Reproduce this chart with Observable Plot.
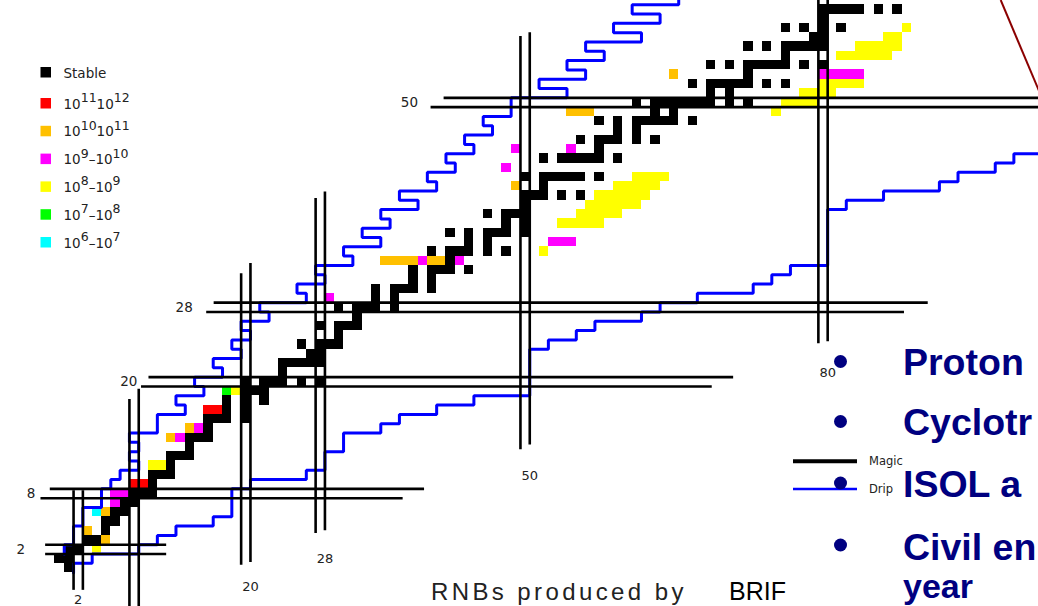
<!DOCTYPE html>
<html><head><meta charset="utf-8">
<script src="https://cdn.jsdelivr.net/npm/d3@7"></script>
<script src="https://cdn.jsdelivr.net/npm/@observablehq/plot@0.6"></script>
<style>
html,body{margin:0;padding:0;background:#fff;overflow:hidden}
#wrap{position:relative;width:1038px;height:606px}
#overlay{position:absolute;left:0;top:0;pointer-events:none}
</style></head><body><div id="wrap"></div>
<script>
// ---------- DATA ----------
// stable (and primordial) nuclides: index = Z, values = N
const stableN = [
 [1],[0,1],[1,2],[3,4],[5],[5,6],[6,7],[7,8],[8,9,10],[10],
 [10,11,12],[12],[12,13,14],[14],[14,15,16],[16],[16,17,18,20],[18,20],[18,20,22],[20,21,22],
 [20,22,23,24,26,28],[24],[24,25,26,27,28],[27,28],[26,28,29,30],[30],[28,30,31,32],[32],[30,32,33,34,36],[34,36],
 [34,36,37,38,40],[38,40],[38,40,41,42,44],[42],[40,42,43,44,46,48],[44,46],[42,44,46,47,48,50],[48,50],[46,48,49,50],[50],
 [50,51,52,54,56],[52],[50,52,53,54,55,56,58],[],[52,54,55,56,57,58,60],[58],[56,58,59,60,62,64],[60,62],[58,60,62,63,64,65,66,68],[64,66],
 [62,64,65,66,67,68,69,70,72,74],[70,72],[68,70,71,72,73,74,76,78],[74],[70,72,74,75,76,77,78,80,82],[78],[74,76,78,79,80,81,82],[81,82],[78,80,82,84],[82],
 [82,83,84,85,86,88,90]
];
// RNB yields, [N, Z]
const yield11to12 = [[8,9],[9,9],[16,17],[17,17]];
const yield10to11 = [[5,3],[3,4],[5,6],[12,14],[14,15],[35,33],[36,33],[37,33],[38,33],[40,33],[41,33],[49,41],[55,49],[56,49],[57,49],[66,53]];
const yield9to10 = [[6,7],[6,8],[7,8],[13,14],[15,15],[29,29],[39,33],[43,33],[53,35],[54,35],[55,35],[48,43],[49,45],[55,45],[82,53],[83,53],[84,53],[85,53],[86,53]];
const yield8to9 = [[4,2],[10,11],[11,11],[19,19],[52,34],
 [54,37],[55,37],[56,37],[57,37],[58,37],
 [56,38],[57,38],[58,38],[59,38],[60,38],
 [57,39],[58,39],[59,39],[60,39],[61,39],[62,39],
 [58,40],[59,40],[60,40],[61,40],[62,40],[63,40],
 [60,41],[61,41],[62,41],[63,41],[64,41],
 [62,42],[63,42],[64,42],[65,42],
 [77,49],[78,50],[79,50],[80,50],[81,50],
 [80,51],[81,51],[82,51],[83,51],
 [82,52],[83,52],[84,52],[85,52],[86,52],
 [84,55],[85,55],[86,55],[87,55],[88,55],[89,55],
 [86,56],[87,56],[88,56],[89,56],[90,56],
 [89,57],[90,57],[91,58]];
const yield7to8 = [[18,19]];
const yield6to7 = [[4,6]];

// magic numbers and the extents of their boundary lines
const magicZ = [2, 8, 20, 28, 50];
const magicZLow = [[-1.5, 11.5], [-2, 36.9], [8.8, 70.1], [15.8, 90.75], [39.9, 112]];
const magicZHigh = [[-1.5, 11.5], [-1, 39.2], [9.6, 72.4], [16.6, 93.3], [41.3, 112]];
const magicN = [2, 8, 20, 28, 50, 82];
const magicNLow = [[-2.4, 8.3], [-6, 18.1], [0.3, 31.6], [3.7, 39.7], [12.7, 57.1], [24.1, 66]];
const magicNHigh = [[-2.4, 8.3], [-6, 19.2], [0.6, 32.7], [4.0, 40.4], [13.2, 57.5], [24.3, 66]];
const zTickLabels = ["2", "8", "20", "28", "50"];
const nTickLabels = ["2", "20", "28", "50", "80"];
const nTickValues = [2, 20, 28, 50, 82];

// drip lines, vertices [N, Z]
const protonDrip = [[0.5,1.5],[0.5,2.5],[1.5,2.5],[1.5,4.5],[2.5,4.5],[2.5,6.5],[4.5,6.5],[4.5,8.5],[5.5,8.5],[5.5,9.5],[6.5,9.5],[6.5,10.5],[8.5,10.5],[8.5,11.5],[7.5,11.5],[7.5,12.5],[8.5,12.5],[8.5,13.5],[7.5,13.5],[7.5,14.5],[10.5,14.5],[10.5,16.5],[13.5,16.5],[13.5,17.5],[12.5,17.5],[12.5,18.5],[15.5,18.5],[15.5,19.5],[14.5,19.5],[14.5,20.5],[17.5,20.5],[17.5,21.5],[16.5,21.5],[16.5,22.5],[19.5,22.5],[19.5,23.5],[18.5,23.5],[18.5,24.5],[20.5,24.5],[20.5,25.5],[19.5,25.5],[19.5,26.5],[22.5,26.5],[22.5,27.5],[21.5,27.5],[21.5,28.5],[26.5,28.5],[26.5,29.5],[25.5,29.5],[25.5,30.5],[28.5,30.5],[28.5,31.5],[27.5,31.5],[27.5,32.5],[31.5,32.5],[31.5,33.5],[30.5,33.5],[30.5,34.5],[34.5,34.5],[34.5,35.5],[32.5,35.5],[32.5,36.5],[35.5,36.5],[35.5,37.5],[34.5,37.5],[34.5,38.5],[38.5,38.5],[38.5,39.5],[36.5,39.5],[36.5,40.5],[40.5,40.5],[40.5,41.5],[39.5,41.5],[39.5,42.5],[42.5,42.5],[42.5,43.5],[41.5,43.5],[41.5,44.5],[44.5,44.5],[44.5,45.5],[43.5,45.5],[43.5,46.5],[46.5,46.5],[46.5,47.5],[45.5,47.5],[45.5,48.5],[48.5,48.5],[48.5,50.5],[54.5,50.5],[54.5,51.5],[51.5,51.5],[51.5,52.5],[56.5,52.5],[56.5,53.5],[54.5,53.5],[54.5,54.5],[58.5,54.5],[58.5,55.5],[56.5,55.5],[56.5,56.5],[62.5,56.5],[62.5,57.5],[59.5,57.5],[59.5,58.5],[64.5,58.5],[64.5,59.5],[61.5,59.5],[61.5,60.5],[66.5,60.5],[66.5,62.5]];
const neutronDrip = [[1.5,-0.5],[1.5,0.5],[3.5,0.5],[3.5,1.5],[8.5,1.5],[8.5,2.5],[10.5,2.5],[10.5,3.5],[12.5,3.5],[12.5,4.5],[16.5,4.5],[16.5,5.5],[18.5,5.5],[18.5,8.5],[20.5,8.5],[20.5,9.5],[26.5,9.5],[26.5,10.5],[28.5,10.5],[28.5,12.5],[30.5,12.5],[30.5,14.5],[34.5,14.5],[34.5,15.5],[36.5,15.5],[36.5,16.5],[40.5,16.5],[40.5,17.5],[44.5,17.5],[44.5,18.5],[50.5,18.5],[50.5,23.5],[52.5,23.5],[52.5,24.5],[55.5,24.5],[55.5,25.5],[57.5,25.5],[57.5,26.5],[62.5,26.5],[62.5,27.5],[64.5,27.5],[64.5,28.5],[68.5,28.5],[68.5,29.5],[74.5,29.5],[74.5,30.5],[76.5,30.5],[76.5,31.5],[78.5,31.5],[78.5,32.5],[82.5,32.5],[82.5,38.5],[84.5,38.5],[84.5,39.5],[88.5,39.5],[88.5,40.5],[94.5,40.5],[94.5,41.5],[96.5,41.5],[96.5,42.5],[100.5,42.5],[100.5,43.5],[102.5,43.5],[102.5,44.5],[107,44.5]];

const legendLabels = [["Stable"],["10","11","","10","12"],["10","10","","10","11"],["10","9","–","10","10"],["10","8","–","10","9"],["10","7","–","10","8"],["10","6","–","10","7"]];
const legendColors = ["#000000","#ff0000","#ffc000","#ff00ff","#ffff00","#00ff00","#00ffff"];
const bulletTexts = ["Proton", "Cyclotr", "ISOL a", "Civil en", "year"];

// ---------- BUILD ----------
const cells = [];
stableN.forEach((ns, z) => ns.forEach(n => cells.push({N: n, Z: z, c: legendColors[0]})));
[yield11to12, yield10to11, yield9to10, yield8to9, yield7to8, yield6to7].forEach((arr, i) =>
  arr.forEach(([n, z]) => cells.push({N: n, Z: z, c: legendColors[i + 1]})));

const hLines = [];
magicZ.forEach((m, i) => {
  hLines.push({z: m - 0.5, n1: magicZLow[i][0], n2: magicZLow[i][1]});
  hLines.push({z: m + 0.5, n1: magicZHigh[i][0], n2: magicZHigh[i][1]});
});
const vLines = [];
magicN.forEach((m, i) => {
  vLines.push({n: m - 0.5, z1: magicNLow[i][0], z2: magicNLow[i][1]});
  vLines.push({n: m + 0.5, z1: magicNHigh[i][0], z2: magicNHigh[i][1]});
});

const zLabelN = [-3.7, -2.6, 8.35, 14.3, 38.5];
const zLabels = magicZ.map((m, i) => ({n: zLabelN[i], z: m, t: zTickLabels[i]}));
const nLabelZ = [-3.45, -2.06, 1.0, 9.94, 20.95];
const nLabels = nTickValues.map((m, i) => ({n: m + 0.5 * (i > 0), z: nLabelZ[i], t: nTickLabels[i]}));

const chart = Plot.plot({
  width: 1038, height: 606, margin: 0,
  style: {background: "white", overflow: "hidden"},
  x: {domain: [0, 100], range: [59.1, 990.1], axis: null},
  y: {domain: [0, 60], range: [567.5, 8.9], axis: null},
  marks: [
    Plot.rect(cells, {x1: d => d.N - 0.5, x2: d => d.N + 0.5, y1: d => d.Z - 0.5, y2: d => d.Z + 0.5, fill: "c", shapeRendering: "crispEdges"}),
    Plot.line(protonDrip, {stroke: "#0000ff", strokeWidth: 3, strokeLinejoin: "miter"}),
    Plot.line(neutronDrip, {stroke: "#0000ff", strokeWidth: 3, strokeLinejoin: "miter"}),
    Plot.ruleY(hLines, {y: "z", x1: "n1", x2: "n2", stroke: "#000", strokeWidth: 2.6}),
    Plot.ruleX(vLines, {x: "n", y1: "z1", y2: "z2", stroke: "#000", strokeWidth: 2.6}),
    Plot.text(zLabels, {x: "n", y: "z", text: "t", textAnchor: "end", fontSize: 13.5, fontFamily: "DejaVu Sans", fill: "#222"}),
    Plot.text(nLabels, {x: "n", y: "z", text: "t", fontSize: 13, fontFamily: "DejaVu Sans", fill: "#222"})
  ]
});
document.getElementById("wrap").append(chart);

// ---------- OVERLAY (legend & slide annotations) ----------
const svg = d3.select("#wrap").append("svg").attr("id", "overlay").attr("width", 1038).attr("height", 606);
legendLabels.forEach((parts, i) => {
  const top = i === 0 ? 67 : 98 + (i - 1) * 27.8;
  svg.append("rect").attr("x", 40.5).attr("y", top).attr("width", 10.5).attr("height", 10.5).attr("fill", legendColors[i]);
  const t = svg.append("text").attr("x", 63.5).attr("y", top + 10.5)
    .attr("font-family", "DejaVu Sans").attr("font-size", 13.5).attr("fill", "#222");
  if (parts.length === 1) { t.text(parts[0]); return; }
  t.append("tspan").text(parts[0]);
  t.append("tspan").attr("dy", -6.6).attr("font-size", 12.5).text(parts[1]);
  t.append("tspan").attr("dy", 6.6).text(parts[2] + parts[3]);
  t.append("tspan").attr("dy", -6.6).attr("font-size", 12.5).text(parts[4]);
});

// Magic / Drip key
svg.append("line").attr("x1", 793).attr("x2", 857).attr("y1", 461.3).attr("y2", 461.3).attr("stroke", "#000").attr("stroke-width", 4);
svg.append("line").attr("x1", 793).attr("x2", 857).attr("y1", 489).attr("y2", 489).attr("stroke", "#0000ff").attr("stroke-width", 2.5);
svg.append("text").attr("x", 869).attr("y", 465).attr("font-family", "DejaVu Sans").attr("font-size", 11.5).attr("fill", "#222").text("Magic");
svg.append("text").attr("x", 869).attr("y", 493).attr("font-family", "DejaVu Sans").attr("font-size", 11.5).attr("fill", "#222").text("Drip");

// slide bullets
const bulletY = [361.5, 421.5, 483, 545];
const baseY = [375, 435, 497, 560, 598];
const fontSz = [37.5, 37.5, 37.5, 37.5, 34];
bulletY.forEach(y => svg.append("circle").attr("cx", 840.5).attr("cy", y).attr("r", 6.5).attr("fill", "#000080"));
bulletTexts.forEach((s, i) => svg.append("text").attr("x", 903).attr("y", baseY[i])
  .attr("font-family", "Liberation Sans, Arial, sans-serif").attr("font-weight", "bold").attr("font-size", fontSz[i]).attr("fill", "#000080").text(s));

svg.append("text").attr("x", 431).attr("y", 600).attr("font-family", "Liberation Sans, Arial, sans-serif")
  .attr("font-size", 24).attr("letter-spacing", 3.4).attr("fill", "#222").text("RNBs produced by");
svg.append("text").attr("x", 729).attr("y", 600).attr("font-family", "Liberation Sans, Arial, sans-serif")
  .attr("font-size", 25).attr("fill", "#000").text("BRIF");

// dark red pointer line
svg.append("line").attr("x1", 1000.7).attr("y1", 0).attr("x2", 1042).attr("y2", 98).attr("stroke", "#8b0000").attr("stroke-width", 2);
</script></body></html>
